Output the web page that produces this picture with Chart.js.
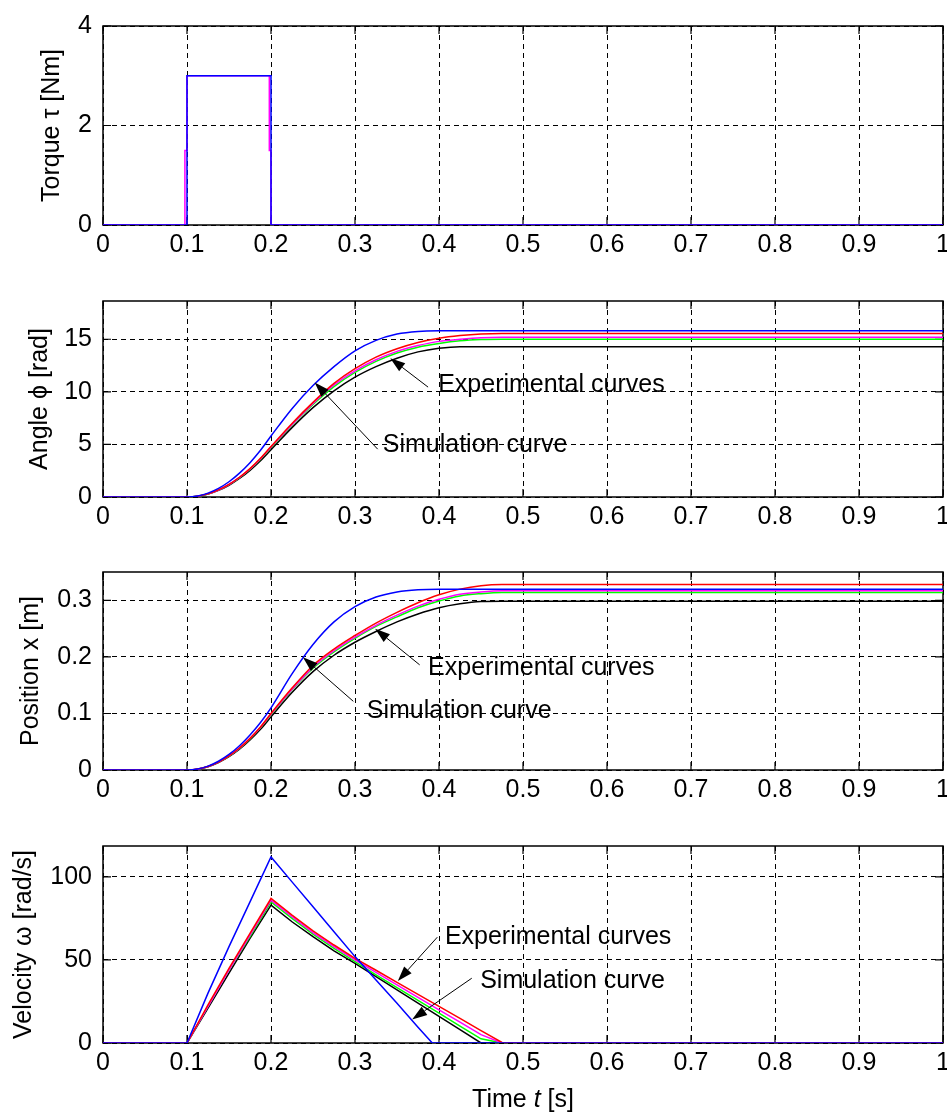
<!DOCTYPE html>
<html>
<head>
<meta charset="utf-8">
<script src="https://cdn.jsdelivr.net/npm/chart.js@4.4.0/dist/chart.umd.min.js"></script>
<style>
    body { margin: 0; background: #fff; overflow: hidden; width: 947px; height: 1117px; position: relative; }
    canvas { position: absolute; left: 0; }
</style>
</head>
<body>
<canvas id="torqueChart"></canvas>
<canvas id="angleChart"></canvas>
<canvas id="positionChart"></canvas>
<canvas id="velocityChart"></canvas>
<script>
const FONT = '"Liberation Sans", Arial, sans-serif';
const FONT_SIZE = 25;

// --- Data ---
const xTicks = [0, 0.1, 0.2, 0.3, 0.4, 0.5, 0.6, 0.7, 0.8, 0.9, 1];
const torqueTicks = [0, 2, 4];
const angleTicks = [0, 5, 10, 15];
const positionTicks = [0, 0.1, 0.2, 0.3];
const velocityTicks = [0, 50, 100];

// torque input: simulation and measured
const torqueTimeSim = [0, 0.1, 0.1, 0.2, 0.2, 1];
const torqueSim = [0, 0, 3, 3, 0, 0];
const torqueTimeExp = [0, 0.0975, 0.0975, 0.1, 0.1, 0.198, 0.198, 0.2, 0.2, 1];
const torqueExp = [0, 0, 1.5, 1.5, 3, 3, 1.5, 1.5, 0, 0];

// time samples for angle and position
const timeGrid = [0, 0.1, 0.1125, 0.125, 0.1375, 0.15, 0.1625, 0.175, 0.1875, 0.2, 0.225, 0.25, 0.275, 0.3, 0.325, 0.35, 0.375, 0.4, 0.425, 0.45, 0.475, 0.5, 1];

const angleSim     = [0, 0, 0.09, 0.37, 0.82, 1.45, 2.27, 3.26, 4.44, 5.8, 8.4, 10.6, 12.4, 13.9, 14.9, 15.5, 15.75, 15.8, 15.8, 15.8, 15.8, 15.8, 15.8];
const angleRed     = [0, 0, 0.08, 0.3, 0.68, 1.2, 1.88, 2.7, 3.68, 4.8, 7.0, 9.0, 10.8, 12.2, 13.3, 14.1, 14.7, 15.1, 15.35, 15.5, 15.55, 15.55, 15.55];
const angleMagenta = [0, 0, 0.08, 0.3, 0.67, 1.19, 1.86, 2.67, 3.64, 4.75, 6.9, 8.9, 10.65, 12.0, 13.05, 13.85, 14.4, 14.8, 15.0, 15.15, 15.2, 15.2, 15.2];
const angleGreen   = [0, 0, 0.08, 0.29, 0.66, 1.18, 1.84, 2.64, 3.6, 4.7, 6.85, 8.8, 10.5, 11.85, 12.9, 13.7, 14.25, 14.6, 14.85, 14.97, 15.0, 15.0, 15.0];
const angleBlack   = [0, 0, 0.07, 0.28, 0.63, 1.12, 1.76, 2.53, 3.45, 4.5, 6.6, 8.5, 10.1, 11.4, 12.4, 13.2, 13.8, 14.15, 14.3, 14.3, 14.3, 14.3, 14.3];

const posSim     = [0, 0, 0.0017, 0.0069, 0.0155, 0.0275, 0.043, 0.062, 0.084, 0.11, 0.17, 0.222, 0.262, 0.289, 0.306, 0.315, 0.319, 0.32, 0.32, 0.32, 0.32, 0.32, 0.32];
const posRed     = [0, 0, 0.0016, 0.0063, 0.014, 0.025, 0.039, 0.056, 0.076, 0.1, 0.145, 0.185, 0.214, 0.238, 0.26, 0.279, 0.296, 0.31, 0.32, 0.326, 0.328, 0.328, 0.328];
const posMagenta = [0, 0, 0.0015, 0.0062, 0.0139, 0.0248, 0.0387, 0.0557, 0.0758, 0.099, 0.143, 0.182, 0.211, 0.235, 0.256, 0.274, 0.29, 0.302, 0.311, 0.315, 0.317, 0.317, 0.317];
const posGreen   = [0, 0, 0.0015, 0.0061, 0.0138, 0.0245, 0.0383, 0.055, 0.075, 0.098, 0.142, 0.18, 0.209, 0.233, 0.254, 0.271, 0.287, 0.299, 0.308, 0.312, 0.314, 0.314, 0.314];
const posBlack   = [0, 0, 0.0015, 0.0059, 0.0132, 0.0235, 0.0367, 0.053, 0.072, 0.094, 0.137, 0.174, 0.203, 0.226, 0.245, 0.262, 0.276, 0.287, 0.294, 0.298, 0.2986, 0.2986, 0.2986];

// velocity samples
const velTimeSim = [0, 0.1, 0.125, 0.15, 0.175, 0.2, 0.225, 0.25, 0.275, 0.3, 0.325, 0.35, 0.375, 0.392, 1];
const velSim     = [0, 0, 30, 58, 85, 112, 97, 82, 67, 52, 38, 24, 9.5, 0, 0];
const velTime    = [0, 0.1, 0.125, 0.15, 0.175, 0.2, 0.225, 0.25, 0.275, 0.3, 0.325, 0.35, 0.375, 0.4, 0.425, 0.45, 0.475, 0.5, 1];
const velRed     = [0, 0, 23, 45, 66, 87, 77, 67.5, 59, 51, 43.8, 36.5, 29.3, 22, 14.8, 7.5, 0.3, 0, 0];
const velMagenta = [0, 0, 22, 44, 65, 86, 76, 66.5, 58, 50, 42.5, 35, 27.5, 20, 12.6, 5, 0, 0, 0];
const velGreen   = [0, 0, 22, 44, 64, 85, 75, 65.5, 57, 49, 41, 33.3, 25.6, 18, 10.2, 2.5, 0, 0, 0];
const velBlack   = [0, 0, 21, 42, 63, 83, 73, 64, 55.5, 48, 40, 32, 24, 16, 8, 0, 0, 0, 0];

// callout labels: text anchor (left, middle) and arrow in data units
const angleNotes = [
    { text: 'Experimental curves', at: [0.399, 10.6], from: [0.387, 10.45], to: [0.342, 13.2] },
    { text: 'Simulation curve', at: [0.333, 4.9], from: [0.327, 4.55], to: [0.252, 10.9] }
];
const positionNotes = [
    { text: 'Experimental curves', at: [0.387, 0.181], from: [0.377, 0.186], to: [0.324, 0.25] },
    { text: 'Simulation curve', at: [0.314, 0.1046], from: [0.298, 0.1215], to: [0.238, 0.1995] }
];
const velocityNotes = [
    { text: 'Experimental curves', at: [0.407, 63.7], from: [0.398, 63.7], to: [0.351, 37.3] },
    { text: 'Simulation curve', at: [0.449, 37.3], from: [0.439, 39], to: [0.368, 14.2] }
];

const COLORS = { sim: '#0000ff', red: '#ff0000', magenta: '#ff00ff', green: '#00ff00', black: '#000000' };

function toPoints(ts, vs) {
    return ts.map((t, i) => ({ x: t, y: vs[i] }));
}

function series(color, ts, vs, smooth) {
    return {
        data: toPoints(ts, vs),
        borderColor: color,
        borderWidth: 1.5,
        pointRadius: 0,
        fill: false,
        tension: 0,
        cubicInterpolationMode: smooth ? 'monotone' : 'default'
    };
}

// axes box and inward tick marks, drawn under the curves
const framePlugin = {
    id: 'frame',
    beforeDatasetsDraw(chart) {
        const { ctx, chartArea: a, scales } = chart;
        ctx.save();
        ctx.setLineDash([]);
        ctx.strokeStyle = '#000';
        ctx.lineWidth = 1.5;
        ctx.strokeRect(a.left, a.top, a.right - a.left, a.bottom - a.top);
        ctx.lineWidth = 1.2;
        ctx.beginPath();
        scales.x.ticks.forEach(t => {
            const px = scales.x.getPixelForValue(t.value);
            ctx.moveTo(px, a.bottom); ctx.lineTo(px, a.bottom - 8);
            ctx.moveTo(px, a.top); ctx.lineTo(px, a.top + 8);
        });
        scales.y.ticks.forEach(t => {
            const py = scales.y.getPixelForValue(t.value);
            ctx.moveTo(a.left, py); ctx.lineTo(a.left + 8, py);
            ctx.moveTo(a.right, py); ctx.lineTo(a.right - 8, py);
        });
        ctx.stroke();
        ctx.restore();
    }
};

// text labels with filled arrowheads
const calloutPlugin = {
    id: 'callouts',
    afterDatasetsDraw(chart, args, opts) {
        const items = opts.items || [];
        if (!items.length) return;
        const { ctx, scales } = chart;
        const px = p => [scales.x.getPixelForValue(p[0]), scales.y.getPixelForValue(p[1])];
        ctx.save();
        ctx.setLineDash([]);
        items.forEach(n => {
            const [x0, y0] = px(n.from);
            const [x1, y1] = px(n.to);
            const ang = Math.atan2(y1 - y0, x1 - x0);
            const len = 15, half = 5;
            ctx.strokeStyle = '#000';
            ctx.lineWidth = 1;
            ctx.beginPath();
            ctx.moveTo(x0, y0);
            ctx.lineTo(x1 - len * Math.cos(ang), y1 - len * Math.sin(ang));
            ctx.stroke();
            ctx.fillStyle = '#000';
            ctx.beginPath();
            ctx.moveTo(x1, y1);
            ctx.lineTo(x1 - len * Math.cos(ang) + half * Math.sin(ang), y1 - len * Math.sin(ang) - half * Math.cos(ang));
            ctx.lineTo(x1 - len * Math.cos(ang) - half * Math.sin(ang), y1 - len * Math.sin(ang) + half * Math.cos(ang));
            ctx.closePath();
            ctx.fill();
            const [tx, ty] = px(n.at);
            ctx.font = FONT_SIZE + 'px ' + FONT;
            ctx.textAlign = 'left';
            ctx.textBaseline = 'middle';
            ctx.fillText(n.text, tx, ty);
        });
        ctx.restore();
    }
};

// x axis label with italic symbol, bottom chart only
const timeTitlePlugin = {
    id: 'timeTitle',
    afterDraw(chart, args, opts) {
        if (!opts.show) return;
        const { ctx, chartArea: a } = chart;
        const parts = [['Time ', 'normal'], ['t', 'italic'], [' [s]', 'normal']];
        ctx.save();
        ctx.fillStyle = '#000';
        ctx.textBaseline = 'middle';
        ctx.textAlign = 'left';
        let total = 0;
        parts.forEach(p => { ctx.font = p[1] + ' ' + FONT_SIZE + 'px ' + FONT; total += ctx.measureText(p[0]).width; });
        let x = (a.left + a.right) / 2 - total / 2;
        const y = a.bottom + 57;
        parts.forEach(p => {
            ctx.font = p[1] + ' ' + FONT_SIZE + 'px ' + FONT;
            ctx.fillText(p[0], x, y);
            x += ctx.measureText(p[0]).width;
        });
        ctx.restore();
    }
};

function makeChart(id, cfg) {
    const canvas = document.getElementById(id);
    const extra = cfg.extraBottom || 0;
    const plotH = cfg.bottom - cfg.top;
    canvas.width = 960;
    canvas.height = 17 + plotH + 40 + extra;
    canvas.style.top = (cfg.top - 17) + 'px';
    return new Chart(canvas.getContext('2d'), {
        type: 'line',
        data: { datasets: cfg.datasets },
        options: {
            responsive: false,
            animation: false,
            events: [],
            layout: { padding: { top: 17, right: 17, bottom: extra, left: 0 } },
            plugins: {
                legend: { display: false },
                tooltip: { enabled: false },
                callouts: { items: cfg.notes || [] },
                timeTitle: { show: !!cfg.timeTitle }
            },
            scales: {
                x: {
                    type: 'linear',
                    min: 0,
                    max: 1,
                    afterBuildTicks: s => { s.ticks = xTicks.map(v => ({ value: v })); },
                    afterFit: s => { s.height = 40; },
                    ticks: {
                        color: '#000',
                        font: { family: FONT, size: FONT_SIZE },
                        padding: 5,
                        maxRotation: 0,
                        callback: v => String(Math.round(v * 10) / 10)
                    },
                    grid: { color: '#000', lineWidth: 1, drawTicks: false },
                    border: { display: false, dash: [5, 4] }
                },
                y: {
                    type: 'linear',
                    min: 0,
                    max: cfg.yMax,
                    afterBuildTicks: s => { s.ticks = cfg.yTicks.map(v => ({ value: v })); },
                    afterFit: s => { s.width = 103; },
                    ticks: {
                        color: '#000',
                        font: { family: FONT, size: FONT_SIZE },
                        padding: 11,
                        callback: v => String(v)
                    },
                    grid: { color: '#000', lineWidth: 1, drawTicks: false },
                    border: { display: false, dash: [5, 4] },
                    title: {
                        display: true,
                        text: cfg.yTitle,
                        color: '#000',
                        font: { family: FONT, size: FONT_SIZE },
                        padding: { top: cfg.titlePad, bottom: 0 }
                    }
                }
            }
        },
        plugins: [framePlugin, calloutPlugin, timeTitlePlugin]
    });
}

// --- Torque ---
makeChart('torqueChart', {
    top: 17, bottom: 225, yMax: 4, yTicks: torqueTicks,
    yTitle: 'Torque τ [Nm]', titlePad: 37,
    datasets: [
        series(COLORS.sim, torqueTimeSim, torqueSim),
        series(COLORS.magenta, torqueTimeExp, torqueExp)
    ]
});

// --- Angle ---
makeChart('angleChart', {
    top: 292, bottom: 497, yMax: 18.64, yTicks: angleTicks,
    yTitle: 'Angle ϕ [rad]', titlePad: 25, notes: angleNotes,
    datasets: [
        series(COLORS.sim, timeGrid, angleSim, true),
        series(COLORS.red, timeGrid, angleRed, true),
        series(COLORS.magenta, timeGrid, angleMagenta, true),
        series(COLORS.green, timeGrid, angleGreen, true),
        series(COLORS.black, timeGrid, angleBlack, true)
    ]
});

// --- Position ---
makeChart('positionChart', {
    top: 563, bottom: 770, yMax: 0.3503, yTicks: positionTicks,
    yTitle: 'Position x [m]', titlePad: 16, notes: positionNotes,
    datasets: [
        series(COLORS.sim, timeGrid, posSim, true),
        series(COLORS.red, timeGrid, posRed, true),
        series(COLORS.magenta, timeGrid, posMagenta, true),
        series(COLORS.green, timeGrid, posGreen, true),
        series(COLORS.black, timeGrid, posBlack, true)
    ]
});

// --- Velocity ---
makeChart('velocityChart', {
    top: 837, bottom: 1043, yMax: 118.6, yTicks: velocityTicks,
    yTitle: 'Velocity ω [rad/s]', titlePad: 9, notes: velocityNotes,
    timeTitle: true, extraBottom: 34,
    datasets: [
        series(COLORS.sim, velTimeSim, velSim),
        series(COLORS.red, velTime, velRed),
        series(COLORS.magenta, velTime, velMagenta),
        series(COLORS.green, velTime, velGreen),
        series(COLORS.black, velTime, velBlack)
    ]
});
</script>
</body>
</html>
